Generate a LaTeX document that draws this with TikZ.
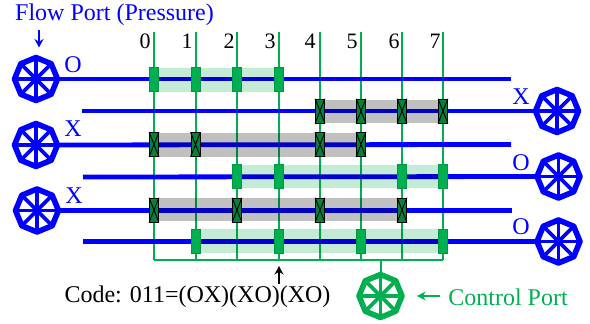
\documentclass[tikz,border=0pt]{standalone}
\usepackage{fontspec}
\setmainfont{Liberation Serif}
\usetikzlibrary{shapes.geometric,arrows.meta}
\definecolor{cgreen}{RGB}{0,176,80}
\definecolor{cdark}{RGB}{0,130,60}
\definecolor{cblue}{RGB}{0,0,255}
\definecolor{bandg}{RGB}{195,235,213}
\definecolor{bandx}{RGB}{192,192,192}
\tikzset{
  x=1pt,y=-1pt,
  wheel/.style={circle,minimum size=46pt,inner sep=0pt},
  rim/.style={line width=5.6pt,line join=round},
  spoke/.style={line width=3.8pt},
  gate/.style={draw=cgreen,line width=2pt},
  flowline/.style={draw=cblue,line width=4.8pt},
  bandO/.style={fill=bandg,blend mode=multiply},
  bandX/.style={fill=bandx,blend mode=multiply},
  openv/.style={rectangle,draw=cgreen!85!black,fill=cgreen,line width=.6pt,minimum width=9.2pt,minimum height=24pt,inner sep=0pt},
  closev/.style={rectangle,draw=black,fill=cdark,line width=.6pt,minimum width=9.2pt,minimum height=24pt,inner sep=0pt},
  lab/.style={text=cblue,font=\fontsize{24}{24}\selectfont,inner sep=0pt},
  numlab/.style={text=black,font=\fontsize{22}{22}\selectfont,inner sep=0pt},
  thinarrow/.style={line width=2.2pt,-{Stealth[length=8.5pt,width=9pt]}}
}
\newcommand{\wheelat}[4]{%
  \node[wheel] (#1) at (#2,#3) {};
  \begin{scope}[shift={(#2,#3)}]
  \draw[draw=#4,rim] (0:21.5) -- (45:21.5) -- (90:21.5) -- (135:21.5) -- (180:21.5) -- (225:21.5) -- (270:21.5) -- (315:21.5) -- cycle;
  \foreach \a in {0,45,...,315}{\draw[draw=#4,spoke] (0,0) -- (\a:21.5);}
  \end{scope}
}
\newcommand{\openat}[3]{\node[openv] (v#3) at (#1,#2) {};}
\newcommand{\closeat}[3]{\node[closev] (v#3) at (#1,#2) {};
  \draw[black,line width=.9pt] (v#3.north west) -- (v#3.south east) (v#3.north east) -- (v#3.south west);}
\begin{document}
\begin{tikzpicture}
\useasboundingbox (0,0) rectangle (590,324);
% column coordinates
\foreach \n/\x in {0/154,1/195.5,2/237,3/278.5,4/320,5/361,6/402,7/443}{
  \coordinate (t\n) at (\x,32);
  \coordinate (b\n) at (\x,259.5);
  \draw[gate] (t\n) -- (b\n);
}
\draw[gate] (b0) -- (b7);
% wheels
\wheelat{L1}{36}{79}{cblue}
\wheelat{L2}{36}{145}{cblue}
\wheelat{L3}{37}{210.5}{cblue}
\wheelat{R1}{557}{111}{cblue}
\wheelat{R2}{558.5}{176.5}{cblue}
\wheelat{R3}{558.5}{241.5}{cblue}
\wheelat{C}{380.5}{296}{cgreen}
\coordinate (cj) at (380.5,259.5);
\draw[gate] (cj) -- (C);
% flow lines
\coordinate (e1) at (511,79);
\coordinate (s2) at (82,111);
\coordinate (e3) at (511,144.5);
\coordinate (s4) at (83,177);
\coordinate (e5) at (512,210.5);
\coordinate (s6) at (83,241.5);
\draw[flowline] (L1) -- (e1);
\draw[flowline] (s2) -- (R1);
\draw[flowline] (L2) -- (e3);
\draw[flowline] (s4) -- (R2);
\draw[flowline] (L3) -- (e5);
\draw[flowline] (s6) -- (R3);
% bands
\path[bandO] (154,68) rectangle (278.5,92);
\path[bandX] (320,99.5) rectangle (443,123);
\path[bandX] (154,133) rectangle (361,156.5);
\path[bandO] (237,165) rectangle (443,188);
\path[bandX] (154,198) rectangle (402,221);
\path[bandO] (196,229) rectangle (443,253);
% valves
\foreach \i/\x in {0/154,1/195.5,2/237,3/278.5}{\openat{\x}{79.5}{a\i}}
\foreach \i/\x in {4/320,5/361,6/402,7/443}{\closeat{\x}{111}{b\i}}
\foreach \i/\x in {0/154,1/195.5,4/320,5/361}{\closeat{\x}{144.5}{c\i}}
\foreach \i/\x in {2/237,3/278.5,6/402,7/443}{\openat{\x}{176.5}{d\i}}
\foreach \i/\x in {0/154,2/237,4/320,6/402}{\closeat{\x}{210}{e\i}}
\foreach \i/\x in {1/196,3/278.5,5/361,7/443}{\openat{\x}{241}{f\i}}
% labels
\node[lab] (flow) at (114.5,15) {Flow Port (Pressure)};
\coordinate (fa) at (39,30);
\coordinate (fb) at (39,47.5);
\draw[thinarrow,cblue] (fa) -- (fb);
\foreach \n/\x in {0/145,1/187,2/229,3/270,4/310,5/352,6/394,7/435}{
  \node[numlab] (n\n) at (\x,41) {\n};
}
\node[lab] (lO1) at (73,65) {O};
\node[lab] (lX1) at (73,129) {X};
\node[lab] (lX2) at (74,196) {X};
\node[lab] (rX) at (521,97) {X};
\node[lab] (rO1) at (521,162.5) {O};
\node[lab] (rO2) at (521,227) {O};
\node[font=\fontsize{24}{24}\selectfont,inner sep=0pt] (code) at (197.5,297) {Code: 011=(OX)(XO)(XO)};
\coordinate (ca) at (279,284);
\coordinate (cb) at (279,266);
\draw[thinarrow,black] (ca) -- (cb);
\node[lab,text=cgreen] (ctl) at (508,297) {Control Port};
\coordinate (pa) at (440,296);
\coordinate (pb) at (417,296);
\draw[thinarrow,cgreen] (pa) -- (pb);
\end{tikzpicture}
\end{document}
